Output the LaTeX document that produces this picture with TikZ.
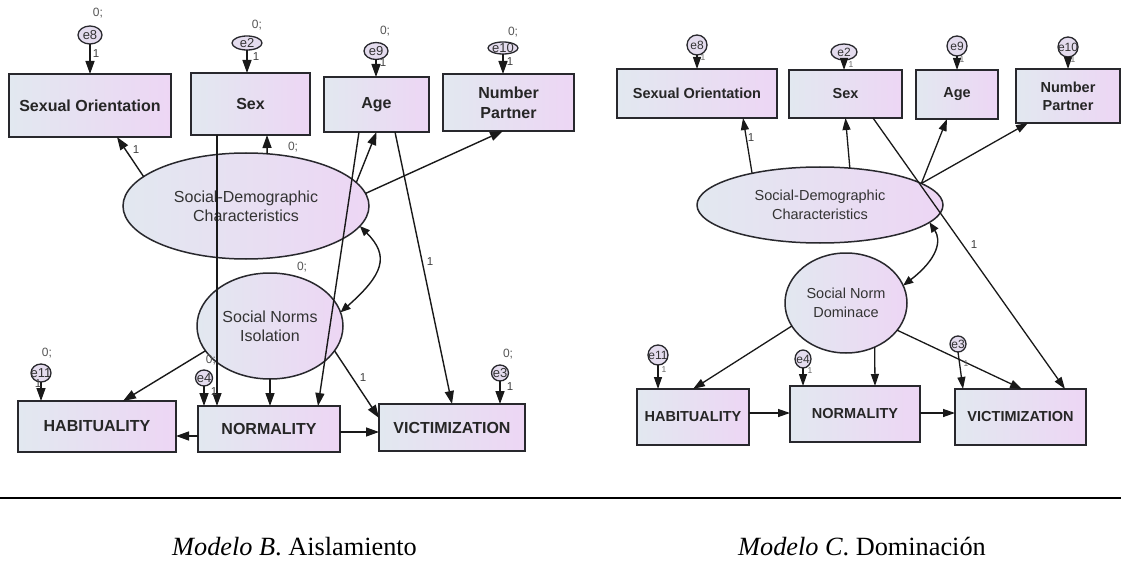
\documentclass[tikz,border=0pt]{standalone}
\usepackage{fontspec}
\setmainfont{Liberation Serif}
\newfontfamily\sans{Liberation Sans}
\usetikzlibrary{arrows.meta,shapes.geometric,calc}
\definecolor{boxL}{RGB}{226,232,240}
\definecolor{boxR}{RGB}{237,214,244}
\definecolor{edgec}{RGB}{40,40,45}
\definecolor{errfill}{RGB}{228,220,238}
\definecolor{lbl}{RGB}{85,85,85}
\tikzset{
  box/.style={draw=edgec, line width=1.8pt, left color=boxL, right color=boxR, inner sep=0pt, outer sep=0pt, align=center, font=\sans\bfseries\fontsize{16}{20}\selectfont, text=black!85},
  boxtwo/.style={box, font=\sans\bfseries\fontsize{14.5}{18}\selectfont},
  lat/.style={ellipse, draw=edgec, line width=1.5pt, left color=boxL, right color=boxR, inner sep=0pt, outer sep=0pt, align=center, font=\sans\fontsize{16}{19}\selectfont, text=black!80},
  lattwo/.style={lat, font=\sans\fontsize{14.5}{19}\selectfont},
  err/.style={ellipse, draw=edgec, line width=1.3pt, fill=errfill, inner sep=0pt, outer sep=0pt},
  errtxt/.style={font=\sans\fontsize{13}{13}\selectfont, inner sep=0pt, text=black!80},
  errtxttwo/.style={font=\sans\fontsize{12}{12}\selectfont, inner sep=0pt, text=black!80},
  arr/.style={-{Triangle[length=13pt,width=9pt]}, line width=1.4pt, draw=black!90},
  arrtwo/.style={-{Triangle[length=12pt,width=8pt]}, line width=1.3pt, draw=black!90},
  cov/.style={{Triangle[length=10pt,width=8pt]}-{Triangle[length=10pt,width=8pt]}, line width=1.4pt, draw=black!90},
  zlab/.style={font=\sans\fontsize{12}{12}\selectfont, text=lbl, inner sep=0pt},
  olab/.style={font=\sans\fontsize{11.5}{11.5}\selectfont, text=black!75, inner sep=0pt},
  tlab/.style={font=\sans\fontsize{8.5}{8.5}\selectfont, text=black!60, inner sep=0pt},
  capt/.style={font=\fontsize{26.3}{28}\selectfont, inner sep=0pt}
}
\begin{document}
\begin{tikzpicture}[x=1pt,y=-1pt]
\useasboundingbox (0,0) rectangle (1121,572);
\fill[white] (0,0) rectangle (1121,572);

% ---------------- Left model ----------------
\node[box, minimum width=162pt, minimum height=63pt] (so) at (90,105.5) {Sexual Orientation};
\node[box, minimum width=119pt, minimum height=62pt] (sex) at (250.5,104) {Sex};
\node[box, minimum width=105pt, minimum height=55pt] (age) at (376.5,104.5) {Age};
\node[box, minimum width=131pt, minimum height=57pt] (np) at (508.5,102.5) {Number\\Partner};
\node[lat, minimum width=246pt, minimum height=106pt] (sd) at (246,206) {Social-Demographic\\Characteristics};
\node[lat, minimum width=146pt, minimum height=106pt] (sn) at (270,326) {Social Norms\\Isolation};
\node[box, minimum width=158pt, minimum height=51pt] (hab) at (97,426.5) {HABITUALITY};
\node[box, minimum width=142pt, minimum height=46pt] (nor) at (269,429) {NORMALITY};
\node[box, minimum width=146pt, minimum height=47pt] (vic) at (452,427.5) {VICTIMIZATION};

\node[err, minimum width=24pt, minimum height=18pt, label={[errtxt]center:e8}] (e8) at (90,35) {};
\node[err, minimum width=30pt, minimum height=14pt, label={[errtxt]center:e2}] (e2) at (247,43) {};
\node[err, minimum width=24pt, minimum height=17pt, label={[errtxt]center:e9}] (e9) at (376,51) {};
\node[err, minimum width=30pt, minimum height=12pt, label={[errtxt]center:e10}] (e10) at (503,48) {};
\node[err, minimum width=20pt, minimum height=18pt, label={[errtxt]center:e11}] (e11) at (41,373) {};
\node[err, minimum width=17pt, minimum height=16pt, label={[errtxt]center:e4}] (e4) at (204,378) {};
\node[err, minimum width=17pt, minimum height=16pt, label={[errtxt]center:e3}] (e3) at (500,373) {};

\draw[arr] (e8) -- (so);
\draw[arr] (e2.south) -- (e2.south |- sex.north);
\draw[arr] (e9.south) -- (e9.south |- age.north);
\draw[arr] (e10.south) -- (e10.south |- np.north);
\draw[arr] (sd.164) -- ([xshift=27pt]so.south);
\draw[arr] (sd.68) -- ([xshift=16.5pt]sex.south);
\draw[arr] (sd.12) -- (age.south);
\draw[arr] (sd.6) -- ([xshift=-5.5pt]np.south);
\draw[arr] ([xshift=-33.5pt]sex.south) -- ([xshift=-52pt]nor.north);
\draw[arr] ([xshift=-17.5pt]age.south) -- ([xshift=49pt]nor.north);
\draw[arr] ([xshift=18.5pt]age.south) -- (vic.north);
\draw[arr] (sn.201) -- ([xshift=26pt]hab.north);
\draw[arr] (sn.south) -- (sn.south |- nor.north);
\draw[arr] (sn.-21) -- ([yshift=9.5pt]vic.west);
\draw[arr] ([yshift=-7pt]nor.west) -- ([yshift=-9.5pt]hab.east);
\draw[arr] ([yshift=-3pt]nor.east) -- ([yshift=-4.5pt]vic.west);
\draw[arr] (e11.south) -- (e11.south |- hab.north);
\draw[arr] (e4.south) -- (e4.south |- nor.north);
\draw[arr] (e3.south) -- (e3.south |- vic.north);
\draw[cov] (sd.-10) .. controls +(30,30) and +(43,-38) .. (sn.11);

\node[zlab] (z1) at (98,13) {0;};
\node[zlab] (z2) at (257,25) {0;};
\node[zlab] (z3) at (385,31) {0;};
\node[zlab] (z4) at (513,32) {0;};
\node[zlab] (z5) at (293,147) {0;};
\node[zlab] (z6) at (302,267) {0;};
\node[zlab] (z7) at (47,353) {0;};
\node[zlab] (z8) at (211,360) {0;};
\node[zlab] (z9) at (508,354) {0;};

\node[olab] (o1) at (96,54) {1};
\node[olab] (o2) at (256,57) {1};
\node[olab] (o3) at (383,63) {1};
\node[olab] (o4) at (510,62) {1};
\node[olab] (o5) at (136,150) {1};
\node[olab] (o6) at (430,262) {1};
\node[olab] (o7) at (363,378) {1};
\node[olab] (o8) at (38,384) {1};
\node[olab] (o9) at (214,392) {1};
\node[olab] (o10) at (510,387) {1};

% ---------------- Right model ----------------
\node[boxtwo, minimum width=160pt, minimum height=49pt] (sob) at (697,93.5) {Sexual Orientation};
\node[boxtwo, minimum width=113pt, minimum height=48pt] (sexb) at (845.5,94) {Sex};
\node[boxtwo, minimum width=82pt, minimum height=49pt] (ageb) at (957,94.5) {Age};
\node[boxtwo, minimum width=104pt, minimum height=54pt] (npb) at (1068,96) {Number\\Partner};
\node[lattwo, minimum width=246pt, minimum height=76pt] (sdb) at (820,205) {Social-Demographic\\Characteristics};
\node[lattwo, minimum width=122pt, minimum height=100pt] (snb) at (846,303) {Social Norm\\Dominace};
\node[boxtwo, minimum width=112pt, minimum height=56pt] (habb) at (693,417) {HABITUALITY};
\node[boxtwo, minimum width=130pt, minimum height=56pt] (norb) at (855,414) {NORMALITY};
\node[boxtwo, minimum width=131pt, minimum height=56pt] (vicb) at (1020.5,417) {VICTIMIZATION};

\node[err, minimum width=20pt, minimum height=20pt, label={[errtxttwo]center:e8}] (e8b) at (697,45) {};
\node[err, minimum width=26pt, minimum height=16pt, label={[errtxttwo]center:e2}] (e2b) at (844,52) {};
\node[err, minimum width=20pt, minimum height=20pt, label={[errtxttwo]center:e9}] (e9b) at (957,46) {};
\node[err, minimum width=20pt, minimum height=20pt, label={[errtxttwo]center:e10}] (e10b) at (1068,47) {};
\node[err, minimum width=20pt, minimum height=20pt, label={[errtxttwo]center:e11}] (e11b) at (658,355) {};
\node[err, minimum width=16pt, minimum height=18pt, label={[errtxttwo]center:e4}] (e4b) at (803,359) {};
\node[err, minimum width=16pt, minimum height=16pt, label={[errtxttwo]center:e3}] (e3b) at (958,344) {};

\draw[arrtwo] (e8b) -- (sob);
\draw[arrtwo] (e2b.south) -- (e2b.south |- sexb.north);
\draw[arrtwo] (e9b) -- (ageb);
\draw[arrtwo] (e10b) -- (npb);
\draw[arrtwo] (sdb.155) -- ([xshift=46pt]sob.south);
\draw[arrtwo] (sdb.51) -- (sexb.south);
\draw[arrtwo] (sdb.12) -- ([xshift=-10pt]ageb.south);
\draw[arrtwo] (sdb.12) -- ([xshift=-40pt]npb.south);
\draw[arrtwo] ([xshift=27.5pt]sexb.south) -- ([xshift=44.5pt]vicb.north);
\draw[arrtwo] (snb.203) -- (habb.north);
\draw[arrtwo] (snb.-57) -- ([xshift=20pt]norb.north);
\draw[arrtwo] (snb.-28) -- ([xshift=1.5pt]vicb.north);
\draw[arrtwo] ([yshift=4pt]habb.east) -- ([yshift=1pt]norb.west);
\draw[arrtwo] ([yshift=1pt]norb.east) -- ([yshift=4pt]vicb.west);
\draw[arrtwo] (e11b.south) -- (e11b.south |- habb.north);
\draw[arrtwo] (e4b.south) -- (e4b.south |- norb.north);
\draw[arrtwo] (e3b.south) -- ([xshift=-57.5pt]vicb.north);
\draw[cov] (sdb.-9) .. controls +(12,18) and +(35,-27) .. (snb.17);

\node[olab] (p1) at (751,138) {1};
\node[olab] (p2) at (974,245) {1};
\node[tlab] (t1) at (703,58) {1};
\node[tlab] (t2) at (851,65) {1};
\node[tlab] (t3) at (962,60) {1};
\node[tlab] (t4) at (1073,60) {1};
\node[tlab] (t5) at (664,370) {1};
\node[tlab] (t6) at (810,371) {1};
\node[tlab] (t7) at (966,364) {1};

% ---------------- Rule and captions ----------------
\coordinate (rl) at (0,498);
\coordinate (rr) at (1121,498);
\draw[line width=2pt] (rl) -- (rr);
\node[capt, anchor=base west] (capB) at (172,555) {\textit{Modelo B}. Aislamiento};
\node[capt, anchor=base west] (capC) at (738,555) {\textit{Modelo C}. Dominación};
\end{tikzpicture}
\end{document}
